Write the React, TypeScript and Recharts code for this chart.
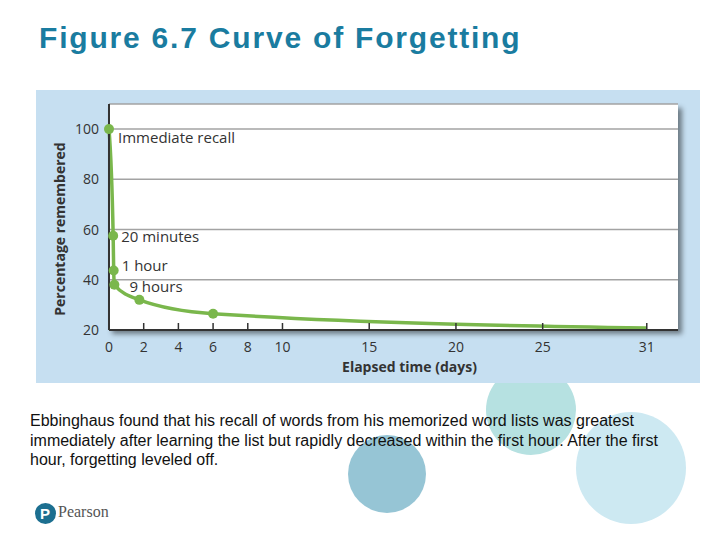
import React from "react";
import { CartesianGrid, LabelList, Line, LineChart, XAxis, YAxis } from "recharts";

// elapsed time in days (early points are drawn spread out, not to scale)
const days = [0, 0.24, 0.27, 0.31, 1.75, 6, 31];
const percentRemembered = [100, 57.5, 43.7, 38, 32, 26.5, 20.8];
const pointLabels = ["Immediate recall", "20 minutes", "1 hour", "9 hours", "", "", ""];
const markerShown = [true, true, true, true, true, true, false];

const xTicks = [0, 2, 4, 6, 8, 10, 15, 20, 25, 31];
const yTicks = [20, 40, 60, 80, 100];

const data = days.map((d, i) => ({
  day: d,
  pct: percentRemembered[i],
  label: pointLabels[i],
  marker: markerShown[i],
}));

const GREEN = "#7ab74c";
const AXIS = "#333";
const FONT = "'Open Sans', 'Noto Sans', sans-serif";

// label offsets so the annotations sit like in the book figure
const labelOffset: Record<number, [number, number]> = {
  0: [9, 8],
  1: [8, 0],
  2: [8, -5],
  3: [15, 1.5],
};

const XTick = (props: any) => {
  const { x, y, payload } = props;
  return (
    <g>
      {payload.value !== 0 && (
        <line x1={x} x2={x} y1={y - 7} y2={y} stroke={AXIS} strokeWidth={1.5} />
      )}
      <text x={x} y={y + 22} textAnchor="middle" fill={AXIS} fontSize={14} fontFamily={FONT}>
        {payload.value}
      </text>
    </g>
  );
};

const Dot = (props: any) => {
  const { cx, cy, payload, index } = props;
  if (!payload.marker) return <g key={index} />;
  return <circle key={index} cx={cx} cy={cy} r={5} fill={GREEN} />;
};

const PointLabel = (props: any) => {
  const { x, y, value, index } = props;
  if (!value) return null;
  const [dx, dy] = labelOffset[index] || [8, 0];
  return (
    <text
      x={x + dx}
      y={y + dy}
      dominantBaseline="central"
      fill={AXIS}
      fontSize={15}
      fontFamily={FONT}
    >
      {value}
    </text>
  );
};

function CurveChart() {
  return (
    <div style={{ position: "absolute", left: 36, top: 90, width: 664, height: 293, background: "#c6dff1" }}>
      {/* white plotting area with its drop shadow */}
      <div
        style={{
          position: "absolute",
          left: 72,
          top: 14,
          width: 570,
          height: 226,
          background: "#fff",
          boxShadow: "4px 4px 5px rgba(0,0,0,0.45)",
        }}
      />
      <LineChart
        width={664}
        height={293}
        data={data}
        margin={{ top: 14, right: 22, left: 0, bottom: 0 }}
        style={{ position: "absolute", left: 0, top: 0 }}
      >
        <CartesianGrid vertical={false} stroke="#a3a3a3" strokeWidth={1.5} />
        <XAxis
          dataKey="day"
          type="number"
          domain={[0, 32.8]}
          ticks={xTicks}
          interval={0}
          height={53}
          tickSize={0}
          tickMargin={0}
          tickLine={false}
          axisLine={{ stroke: AXIS, strokeWidth: 2 }}
          tick={<XTick />}
          label={{
            content: (p: any) => {
              const vb = p.viewBox;
              return (
                <text
                  x={vb.x + vb.width / 2 + 16}
                  y={vb.y + 42}
                  textAnchor="middle"
                  fill={AXIS}
                  fontSize={14}
                  fontWeight={700}
                  fontFamily={FONT}
                >
                  Elapsed time (days)
                </text>
              );
            },
          }}
        />
        <YAxis
          type="number"
          domain={[20, 110]}
          ticks={yTicks}
          interval={0}
          width={73}
          tickSize={0}
          tickMargin={10}
          tickLine={false}
          axisLine={{ stroke: AXIS, strokeWidth: 2 }}
          tick={{ fill: AXIS, fontSize: 14, fontFamily: FONT }}
          label={{
            content: (p: any) => {
              const vb = p.viewBox;
              const cx = vb.x + 23;
              const cy = vb.y + vb.height / 2 + 12;
              return (
                <text
                  x={cx}
                  y={cy}
                  transform={`rotate(-90 ${cx} ${cy})`}
                  textAnchor="middle"
                  dominantBaseline="central"
                  fill={AXIS}
                  fontSize={14}
                  fontWeight={700}
                  fontFamily={FONT}
                >
                  Percentage remembered
                </text>
              );
            },
          }}
        />
        <Line
          dataKey="pct"
          type="monotoneX"
          stroke={GREEN}
          strokeWidth={3.5}
          dot={<Dot />}
          activeDot={false}
          isAnimationActive={false}
        >
          <LabelList dataKey="label" content={<PointLabel />} />
        </Line>
      </LineChart>
    </div>
  );
}

const circle = (cx: number, cy: number, r: number, color: string): React.CSSProperties => ({
  position: "absolute",
  left: cx - r,
  top: cy - r,
  width: r * 2,
  height: r * 2,
  borderRadius: "50%",
  background: color,
});

export default function App() {
  return (
    <div
      style={{
        position: "absolute",
        left: 0,
        top: 0,
        width: 720,
        height: 540,
        background: "#fff",
        overflow: "hidden",
        fontFamily: "'Liberation Sans', Arial, sans-serif",
      }}
    >
      <div style={circle(531, 410, 45, "#b6e1e1")} />
      <div style={circle(387, 474, 39, "#96c5d5")} />
      <div style={{ ...circle(631, 468, 55, "#cde9f2"), height: 112, top: 412 }} />

      <div
        style={{
          position: "absolute",
          left: 39,
          top: 21,
          fontSize: 30,
          fontWeight: 700,
          letterSpacing: 1.8,
          color: "#1a7ca0",
          whiteSpace: "nowrap",
        }}
      >
        Figure 6.7 Curve of Forgetting
      </div>

      <CurveChart />

      <div
        style={{
          position: "absolute",
          left: 30,
          top: 411,
          fontSize: 16,
          lineHeight: "19.5px",
          color: "#111",
          whiteSpace: "nowrap",
        }}
      >
        Ebbinghaus found that his recall of words from his memorized word lists was greatest
        <br />
        immediately after learning the list but rapidly decreased within the first hour. After the first
        <br />
        hour, forgetting leveled off.
      </div>

      <div style={{ ...circle(45, 513, 10.5, "#1c6f90"), color: "#fff", fontWeight: 700, fontSize: 15, textAlign: "center", lineHeight: "21px" }}>
        P
      </div>
      <div
        style={{
          position: "absolute",
          left: 58,
          top: 503,
          fontSize: 16,
          color: "#555",
          fontFamily: "'Liberation Serif', serif",
        }}
      >
        Pearson
      </div>
    </div>
  );
}
